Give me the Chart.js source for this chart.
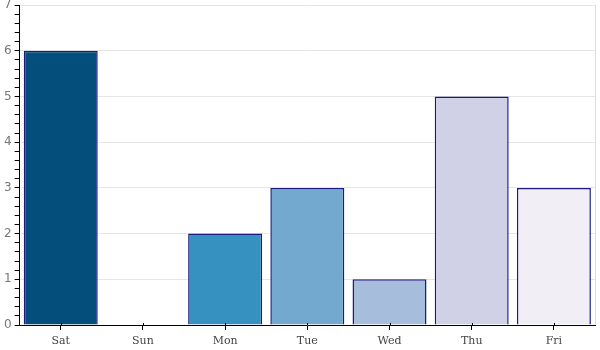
<!DOCTYPE html>
<html>
<head>
<meta charset="utf-8">
<script src="https://cdn.jsdelivr.net/npm/chart.js@4/dist/chart.umd.min.js"></script>
<style>
  html, body { margin: 0; padding: 0; background: #fff; }
  #wrap { width: 600px; height: 350px; }
</style>
</head>
<body>
<div id="wrap"><canvas id="c"></canvas></div>
<script>
const categories = ['Sat', 'Sun', 'Mon', 'Tue', 'Wed', 'Thu', 'Fri'];
const values = [6, 0, 2, 3, 1, 5, 3];
const barColors = ['#034e7b', '#0570b0', '#3690c0', '#74a9cf', '#a6bddb', '#d0d1e6', '#f1eef6'];
const yMax = 7;
const minorStep = 0.2;

const isMajor = v => Math.abs(v - Math.round(v)) < 1e-6;

// Light frame on the right edge and x tick marks that cross the axis line
const framePlugin = {
  id: 'frame',
  afterDraw(chart) {
    const { ctx, chartArea: a, scales } = chart;
    ctx.save();
    ctx.strokeStyle = '#dddddd';
    ctx.lineWidth = 1;
    ctx.beginPath();
    ctx.moveTo(Math.round(a.right) + 0.5, a.top);
    ctx.lineTo(Math.round(a.right) + 0.5, a.bottom);
    ctx.stroke();
    ctx.strokeStyle = '#000';
    ctx.beginPath();
    scales.x.ticks.forEach((t, i) => {
      const px = Math.round(scales.x.getPixelForTick(i)) + 0.5;
      ctx.moveTo(px, a.bottom - 2);
      ctx.lineTo(px, a.bottom);
    });
    ctx.stroke();
    ctx.restore();
  }
};

new Chart(document.getElementById('c'), {
  type: 'bar',
  data: {
    labels: categories,
    datasets: [{
      data: values,
      backgroundColor: barColors,
      borderColor: '#1a1a80',
      borderWidth: 1.5,
      borderSkipped: 'start',
      barPercentage: 0.9,
      categoryPercentage: 1.0
    }]
  },
  options: {
    responsive: true,
    maintainAspectRatio: false,
    animation: false,
    layout: { padding: { top: 0, right: 5, bottom: 0, left: 1 } },
    plugins: { legend: { display: false }, tooltip: { enabled: false } },
    scales: {
      x: {
        afterFit(scale) { scale.height = 25; },
        grid: { offset: false, drawOnChartArea: false, tickLength: 5, color: '#000' },
        border: { color: '#000', width: 1 },
        ticks: { color: '#444', font: { family: 'DejaVu Serif', size: 11 }, padding: 5 }
      },
      y: {
        min: 0,
        max: yMax,
        afterBuildTicks(scale) {
          const ticks = [];
          for (let i = 0; i <= Math.round(yMax / minorStep); i++) {
            ticks.push({ value: +(i * minorStep).toFixed(4) });
          }
          scale.ticks = ticks;
        },
        grid: {
          tickLength: 5,
          color: ctx => (ctx.tick && isMajor(ctx.tick.value)) ? '#e6e6e6' : 'rgba(0,0,0,0)',
          tickColor: '#000'
        },
        border: { color: '#000', width: 1 },
        ticks: {
          autoSkip: false,
          color: '#777',
          padding: 3,
          font: { family: 'DejaVu Sans', size: 12, lineHeight: 0.35 },
          callback: v => isMajor(v) ? String(Math.round(v)) : ''
        }
      }
    }
  },
  plugins: [framePlugin]
});
</script>
</body>
</html>
